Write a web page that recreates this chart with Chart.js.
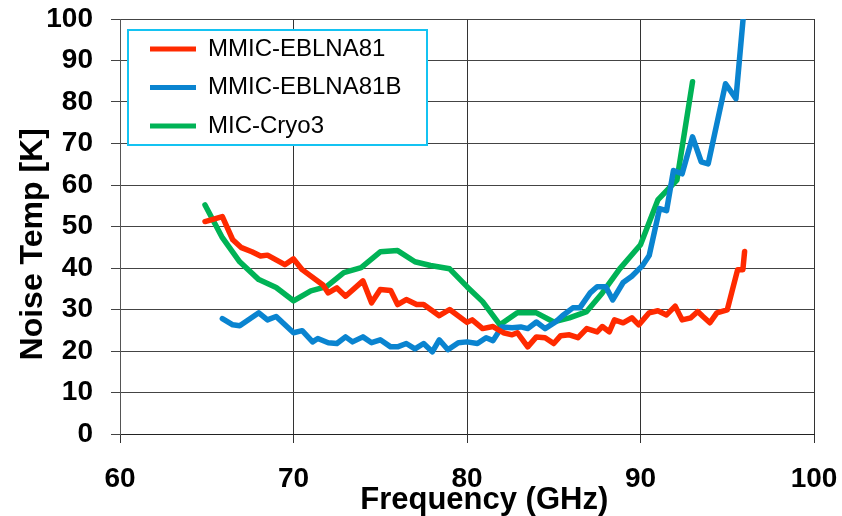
<!DOCTYPE html>
<html>
<head>
<meta charset="utf-8">
<script src="https://cdn.jsdelivr.net/npm/chart.js@4/dist/chart.umd.min.js"></script>
<style>
  body { margin: 0; background: #fff; }
  canvas { display: block; }
</style>
</head>
<body>
<canvas id="noiseChart" width="842" height="516"></canvas>
<script>
// frequency (GHz) / noise temperature (K)
var eblna81Freq = [64.9, 65.9, 66.5, 67.0, 67.6, 68.1, 68.5, 69.5, 70.0, 70.5, 71.7, 72.0, 72.5, 73.0, 74.0, 74.5, 75.0, 75.6, 76.0, 76.5,
  77.1, 77.5, 78.4, 79.0, 80.0, 80.3, 80.9, 81.5, 82.1, 82.6, 82.9, 83.5, 84.0, 84.5, 85.0, 85.4, 85.9, 86.4, 86.9, 87.5,
  87.8, 88.2, 88.5, 89.0, 89.5, 89.9, 90.5, 91.0, 91.5, 92.0, 92.4, 92.9, 93.3, 93.6, 94.0, 94.4, 95.0, 95.3, 95.6, 95.9, 96.0];
var eblna81Temp = [51.2, 52.4, 46.8, 44.9, 43.9, 42.9, 43.1, 40.8, 42.2, 39.6, 35.9, 34.0, 35.2, 33.2, 36.9, 31.6, 34.8, 34.6, 31.2, 32.4,
  31.2, 31.2, 28.5, 30.0, 26.9, 27.5, 25.4, 25.9, 24.4, 23.9, 24.4, 21.0, 23.4, 23.2, 21.8, 23.7, 23.9, 23.2, 25.4, 24.6,
  25.9, 24.6, 27.5, 26.8, 28.0, 26.3, 29.2, 29.7, 28.7, 30.8, 27.5, 28.0, 29.5, 28.3, 26.8, 29.2, 29.9, 34.8, 39.6, 39.6, 44.0];

var eblna81bFreq = [65.9, 66.5, 66.9, 68.0, 68.5, 69.0, 70.0, 70.5, 71.1, 71.4, 72.0, 72.5, 73.0, 73.4, 74.0, 74.5, 75.0, 75.6, 76.0, 76.5,
  77.0, 77.5, 78.0, 78.4, 78.9, 79.5, 80.0, 80.6, 81.1, 81.5, 82.0, 82.6, 83.1, 83.5, 84.0, 84.5, 85.1, 85.5, 86.1, 86.5,
  87.1, 87.5, 88.0, 88.4, 89.0, 89.5, 90.1, 90.5, 91.1, 91.5, 91.9, 92.4, 93.0, 93.5, 93.9, 94.9, 95.5, 96.0];
var eblna81bTemp = [27.8, 26.3, 26.1, 29.2, 27.5, 28.3, 24.4, 24.9, 22.2, 23.0, 22.0, 21.8, 23.4, 22.2, 23.4, 22.0, 22.7, 21.0, 21.0, 21.8,
  20.5, 21.8, 19.8, 22.7, 20.3, 22.0, 22.2, 21.8, 23.2, 22.5, 25.8, 25.6, 25.8, 25.4, 27.0, 25.4, 27.0, 28.5, 30.4, 30.4,
  34.0, 35.5, 35.5, 32.3, 36.5, 38.0, 40.5, 43.0, 54.3, 53.8, 63.5, 62.7, 71.6, 65.6, 65.1, 84.4, 80.8, 104];

var cryo3Freq = [64.9, 65.9, 66.9, 68.0, 69.0, 70.0, 71.0, 71.9, 72.9, 73.9, 75.0, 76.0, 77.0, 77.9, 79.0, 80.0, 80.9, 81.9, 82.9, 84.0,
  85.0, 85.9, 86.9, 87.8, 88.8, 90.0, 91.0, 92.1, 93.0];
var cryo3Temp = [55.2, 47.3, 41.5, 37.2, 35.3, 32.1, 34.5, 35.5, 38.9, 40.1, 43.9, 44.2, 41.5, 40.6, 39.8, 35.5, 31.9, 26.3, 29.2, 29.2,
  27.0, 28.0, 29.5, 34.0, 39.8, 45.6, 56.4, 61.2, 84.9];

var seriesNames = ["MMIC-EBLNA81", "MMIC-EBLNA81B", "MIC-Cryo3"];
var seriesColors = ["#ff2a00", "#0a84d0", "#00b356"];
var xTicks = [60, 70, 80, 90, 100];
var yTicks = [0, 10, 20, 30, 40, 50, 60, 70, 80, 90, 100];

function toPoints(xs, ys) {
  return xs.map(function (x, i) { return { x: x, y: ys[i] }; });
}

var allFreq = [eblna81Freq, eblna81bFreq, cryo3Freq];
var allTemp = [eblna81Temp, eblna81bTemp, cryo3Temp];

var datasets = seriesNames.map(function (name, i) {
  return {
    label: name,
    data: toPoints(allFreq[i], allTemp[i]),
    borderColor: seriesColors[i],
    backgroundColor: seriesColors[i],
    borderWidth: 5.5,
    borderCapStyle: "round",
    borderJoinStyle: "round",
    pointRadius: 0,
    tension: 0,
    fill: false
  };
});

var fontFamily = "'Liberation Sans', Arial, sans-serif";

// legend sits inside the plot, on a white box with a cyan frame
var legendBox = {
  id: "legendBox",
  afterLayout: function (chart) {
    var lg = chart.legend;
    lg.left = 135.5;
    lg.top = 22.5;
    lg.right = lg.left + lg.width;
    lg.bottom = lg.top + lg.height;
  },
  beforeDatasetsDraw: function (chart) {
    var ctx = chart.ctx;
    var lg = chart.legend;
    var x0 = lg.left - 7.5, y0 = lg.top + 7.5;
    ctx.save();
    ctx.fillStyle = "#fff";
    ctx.fillRect(x0, y0, 299, 115);
    ctx.strokeStyle = "#14c3f2";
    ctx.lineWidth = 2;
    ctx.strokeRect(x0, y0, 299, 115);
    ctx.restore();
    lg.draw();
  }
};

new Chart(document.getElementById("noiseChart"), {
  type: "line",
  data: { datasets: datasets },
  plugins: [legendBox],
  options: {
    responsive: false,
    animation: false,
    devicePixelRatio: 1,
    layout: { padding: { top: 19, right: 28, bottom: 0, left: 0 } },
    plugins: {
      tooltip: { enabled: false },
      legend: {
        position: "chartArea",
        align: "start",
        labels: {
          font: { family: fontFamily, size: 24 },
          color: "#000",
          boxWidth: 46,
          boxHeight: 5,
          padding: 14.5,
          generateLabels: function (chart) {
            return chart.data.datasets.map(function (ds, i) {
              return {
                text: ds.label,
                fillStyle: ds.borderColor,
                strokeStyle: ds.borderColor,
                lineWidth: 0,
                hidden: false,
                datasetIndex: i
              };
            });
          }
        }
      }
    },
    scales: {
      x: {
        type: "linear",
        min: 60,
        max: 100,
        afterBuildTicks: function (axis) {
          axis.ticks = xTicks.map(function (v) { return { value: v }; });
        },
        afterFit: function (axis) {
          axis.height = 82;
          axis.paddingLeft = 0;
          axis.paddingRight = 0;
        },
        grid: { color: "#333", lineWidth: 1, tickLength: 9, tickColor: "#333" },
        border: { color: "#222", width: 1 },
        ticks: {
          color: "#000",
          padding: 19,
          maxRotation: 0,
          font: { family: fontFamily, size: 28, weight: "bold" }
        },
        title: {
          display: true,
          // leading spaces nudge the title right, as in the original
          text: "    Frequency (GHz)",
          color: "#000",
          padding: { top: 0, bottom: -3 },
          font: { family: fontFamily, size: 31, weight: "bold" }
        }
      },
      y: {
        min: 0,
        max: 100,
        afterBuildTicks: function (axis) {
          axis.ticks = yTicks.map(function (v) { return { value: v }; });
        },
        afterFit: function (axis) {
          axis.width = 120;
          axis.paddingTop = 0;
          axis.paddingBottom = 0;
        },
        grid: { color: "#444", lineWidth: 1, tickLength: 9, tickColor: "#444" },
        border: { color: "#555", width: 1 },
        ticks: {
          color: "#000",
          padding: 18,
          font: { family: fontFamily, size: 28, weight: "bold" }
        },
        title: {
          display: true,
          text: "Noise Temp [K]    ",
          color: "#000",
          padding: { top: 14, bottom: 0 },
          font: { family: fontFamily, size: 32, weight: "bold" }
        }
      }
    }
  }
});
</script>
</body>
</html>
